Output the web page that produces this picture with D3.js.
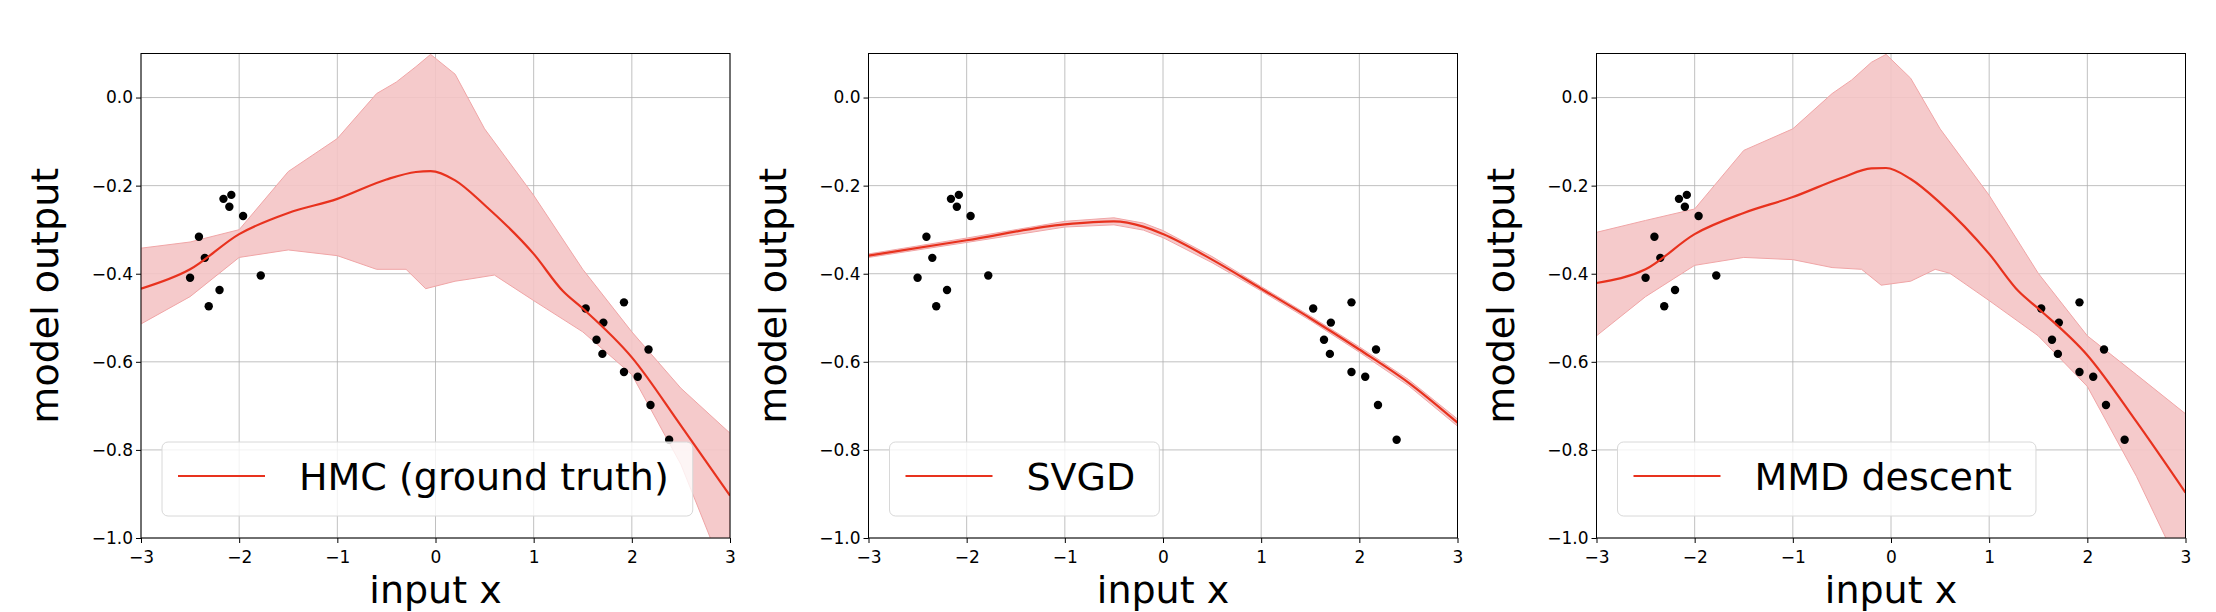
<!DOCTYPE html>
<html>
<head>
<meta charset="utf-8">
<script src="https://cdn.jsdelivr.net/npm/d3@7"></script>
<style>
  body { margin: 0; background: #fff; }
  text { font-family: "DejaVu Sans", sans-serif; }
</style>
</head>
<body>
<div id="chart"></div>
<script>
// observed data points (same in every panel)
const pointsX = [-2.50, -2.41, -2.35, -2.31, -2.20, -2.16, -2.08, -2.10, -1.96, -1.78,
                 1.53, 1.92, 1.71, 1.64, 1.70, 1.92, 2.06, 2.17, 2.19, 2.38];
const pointsY = [-0.409, -0.316, -0.364, -0.474, -0.437, -0.230, -0.221, -0.248, -0.269, -0.404,
                 -0.479, -0.465, -0.511, -0.550, -0.582, -0.623, -0.634, -0.572, -0.698, -0.777];

// HMC
const hmcMeanX = [-3, -2.5, -2, -1.5, -1, -0.5, -0.2, -0.05, 0.2, 0.5, 1.0, 1.3, 1.5, 2.0, 2.5, 3.0];
const hmcMean  = [-0.434, -0.39, -0.31, -0.262, -0.23, -0.186, -0.169, -0.167, -0.188, -0.244, -0.355, -0.44, -0.479, -0.59, -0.745, -0.904];
const hmcUpX = [-3, -2.5, -2, -1.5, -1, -0.6, -0.4, -0.2, -0.05, 0.2, 0.35, 0.5, 1.0, 1.5, 2.0, 2.5, 3.0];
const hmcUp  = [-0.342, -0.328, -0.30, -0.168, -0.093, 0.009, 0.035, 0.07, 0.098, 0.053, -0.009, -0.071, -0.222, -0.39, -0.532, -0.66, -0.762];
const hmcLoX = [-3, -2.5, -2, -1.5, -1, -0.6, -0.3, -0.1, 0.2, 0.35, 0.6, 1.0, 1.5, 2.0, 2.5, 2.8, 3.0];
const hmcLo  = [-0.514, -0.452, -0.363, -0.346, -0.359, -0.39, -0.39, -0.434, -0.417, -0.412, -0.403, -0.461, -0.532, -0.629, -0.833, -1.0, -1.1];

// SVGD
const svgdX    = [-3, -2, -1, -0.5, -0.2, 0, 0.5, 1, 1.5, 2, 2.5, 3];
const svgdMean = [-0.359, -0.324, -0.288, -0.281, -0.293, -0.31, -0.368, -0.434, -0.501, -0.572, -0.647, -0.738];
const svgdUp   = [-0.355, -0.319, -0.281, -0.273, -0.285, -0.302, -0.361, -0.429, -0.496, -0.566, -0.640, -0.730];
const svgdLo   = [-0.363, -0.329, -0.294, -0.289, -0.301, -0.318, -0.375, -0.439, -0.506, -0.578, -0.654, -0.746];

// MMD descent
const mmdMeanX = [-3, -2.5, -2, -1.5, -1, -0.5, -0.2, -0.05, 0.2, 0.5, 1.0, 1.3, 1.5, 2.0, 2.5, 3.0];
const mmdMean  = [-0.421, -0.39, -0.31, -0.262, -0.226, -0.182, -0.161, -0.160, -0.185, -0.239, -0.355, -0.44, -0.479, -0.585, -0.736, -0.897];
const mmdUpX = [-3, -2.5, -2, -1.5, -1, -0.6, -0.4, -0.2, -0.05, 0.2, 0.5, 1.0, 1.5, 2.0, 2.5, 3.0];
const mmdUp  = [-0.306, -0.279, -0.253, -0.12, -0.071, 0.009, 0.04, 0.08, 0.098, 0.044, -0.071, -0.222, -0.399, -0.541, -0.629, -0.718];
const mmdLoX = [-3, -2.5, -2, -1.5, -1, -0.6, -0.3, -0.1, 0.2, 0.45, 0.6, 1.0, 1.5, 2.0, 2.5, 2.8, 3.0];
const mmdLo  = [-0.541, -0.452, -0.381, -0.363, -0.368, -0.386, -0.39, -0.426, -0.417, -0.39, -0.399, -0.461, -0.541, -0.656, -0.86, -1.0, -1.1];

const xTicks = [-3, -2, -1, 0, 1, 2, 3];
const yTicks = [0.0, -0.2, -0.4, -0.6, -0.8, -1.0];
const legendLabels = ["HMC (ground truth)", "SVGD", "MMD descent"];

const panels = [
  {left: 141, label: legendLabels[0], meanX: hmcMeanX, mean: hmcMean, upX: hmcUpX, up: hmcUp, loX: hmcLoX, lo: hmcLo},
  {left: 868.5, label: legendLabels[1], meanX: svgdX, mean: svgdMean, upX: svgdX, up: svgdUp, loX: svgdX, lo: svgdLo},
  {left: 1596.5, label: legendLabels[2], meanX: mmdMeanX, mean: mmdMean, upX: mmdUpX, up: mmdUp, loX: mmdLoX, lo: mmdLo}
];

const W = 2216, H = 612, pw = 589, plotTop = 53.5, plotBottom = 538;
const svg = d3.select("#chart").append("svg").attr("width", W).attr("height", H);
const minus = s => s.replace("-", "\u2212");

panels.forEach((p, i) => {
  const x = d3.scaleLinear().domain([-3, 3]).range([p.left, p.left + pw]);
  const y = d3.scaleLinear().domain([-1, 0.1]).range([plotBottom, plotTop]);
  const g = svg.append("g");
  const clipId = "clip" + i;
  g.append("clipPath").attr("id", clipId).append("rect")
    .attr("x", p.left).attr("y", plotTop).attr("width", pw).attr("height", plotBottom - plotTop);

  // grid
  g.selectAll(".gx").data(xTicks).enter().append("line")
    .attr("x1", d => x(d)).attr("x2", d => x(d)).attr("y1", plotTop).attr("y2", plotBottom)
    .attr("stroke", "#b0b0b0").attr("stroke-width", 0.8);
  g.selectAll(".gy").data(yTicks).enter().append("line")
    .attr("y1", d => y(d)).attr("y2", d => y(d)).attr("x1", p.left).attr("x2", p.left + pw)
    .attr("stroke", "#b0b0b0").attr("stroke-width", 0.8);

  // band between upper and lower curves
  const band = p.upX.map((v, k) => [v, p.up[k]]).concat(p.loX.map((v, k) => [v, p.lo[k]]).reverse());
  g.append("path").datum(band)
    .attr("clip-path", `url(#${clipId})`)
    .attr("d", d3.line().x(d => x(d[0])).y(d => y(d[1]))(band) + "Z")
    .attr("fill", "#f4c4c5").attr("fill-opacity", 0.9).attr("stroke", "#f0a5a6").attr("stroke-width", 1);

  // points
  g.selectAll(".pt").data(pointsX).enter().append("circle")
    .attr("cx", d => x(d)).attr("cy", (d, k) => y(pointsY[k])).attr("r", 4.2).attr("fill", "#000");

  // mean line
  g.append("path").datum(p.meanX.map((v, k) => [v, p.mean[k]]))
    .attr("clip-path", `url(#${clipId})`)
    .attr("d", d3.line().x(d => x(d[0])).y(d => y(d[1])).curve(d3.curveMonotoneX))
    .attr("fill", "none").attr("stroke", "#e8321e").attr("stroke-width", 2.2);

  // axes
  const ax = g.append("g").attr("transform", `translate(0,${plotBottom})`)
    .call(d3.axisBottom(x).tickValues(xTicks).tickSize(5).tickFormat(d => minus(d3.format("d")(d))));
  const ay = g.append("g").attr("transform", `translate(${p.left},0)`)
    .call(d3.axisLeft(y).tickValues(yTicks).tickSize(5).tickFormat(d => minus(d3.format(".1f")(d))));
  [ax, ay].forEach(a => {
    a.select(".domain").remove();
    a.selectAll("text").attr("font-size", 17).attr("font-family", "DejaVu Sans").attr("fill", "#000");
  });
  ax.selectAll("text").attr("dy", "1.0em");
  g.append("rect").attr("x", p.left).attr("y", plotTop).attr("width", pw).attr("height", plotBottom - plotTop)
    .attr("fill", "none").attr("stroke", "#000").attr("stroke-width", 1);

  // axis labels
  g.append("text").attr("x", p.left + pw / 2).attr("y", 603).attr("text-anchor", "middle")
    .attr("font-size", 38).text("input x");
  g.append("text").attr("transform", `translate(${p.left - 83},${(plotTop + plotBottom) / 2}) rotate(-90)`)
    .attr("text-anchor", "middle").attr("font-size", 38).text("model output");

  // legend
  const lg = g.append("g");
  const lt = lg.append("text").attr("x", p.left + 158).attr("y", 490).attr("font-size", 38).text(p.label);
  const tw = lt.node().getComputedTextLength();
  lg.insert("rect", "text").attr("x", p.left + 21).attr("y", 442).attr("width", 137 + tw + 24).attr("height", 74)
    .attr("rx", 6).attr("fill", "#fff").attr("fill-opacity", 0.8).attr("stroke", "#d8d8d8");
  lg.append("line").attr("x1", p.left + 37).attr("x2", p.left + 124).attr("y1", 476).attr("y2", 476)
    .attr("stroke", "#e8321e").attr("stroke-width", 2.2);
});
</script>
</body>
</html>
